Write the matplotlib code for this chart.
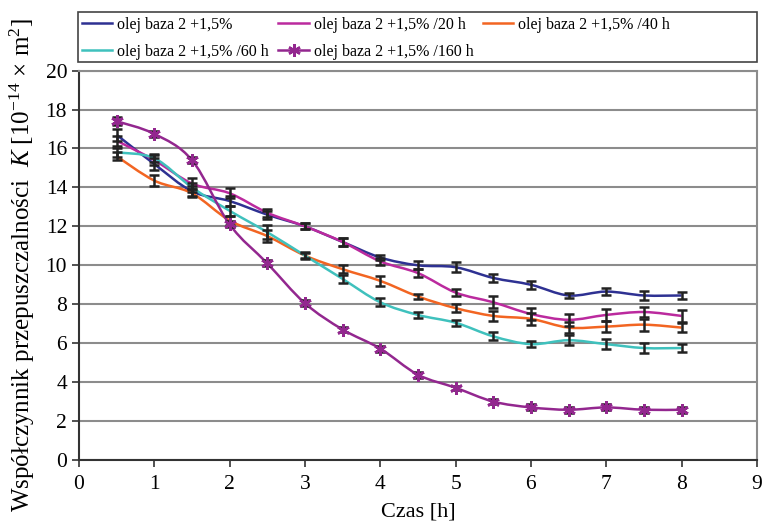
import matplotlib
matplotlib.use("Agg")
import matplotlib.pyplot as plt
from matplotlib.path import Path
from matplotlib.patches import PathPatch, Rectangle
import numpy as np

plt.rcParams['font.family'] = ['Liberation Serif', 'DejaVu Serif']
plt.rcParams['mathtext.fontset'] = 'custom'
plt.rcParams['mathtext.rm'] = 'Liberation Serif'
plt.rcParams['mathtext.it'] = 'Liberation Serif:italic'

czas = [0.5, 1.0, 1.5, 2.0, 2.5, 3.0, 3.5, 4.0, 4.5, 5.0, 5.5, 6.0, 6.5, 7.0, 7.5, 8.0]

baza = [16.7, 15.2, 13.8, 13.3, 12.6, 12.0, 11.2, 10.4, 10.0, 9.9, 9.35, 9.0, 8.45, 8.65, 8.45, 8.45]
baza_err = [0.3, 0.3, 0.25, 0.25, 0.2, 0.15, 0.2, 0.15, 0.2, 0.25, 0.2, 0.2, 0.15, 0.2, 0.25, 0.2]

h20 = [16.4, 15.4, 14.2, 13.7, 12.7, 12.0, 11.2, 10.2, 9.6, 8.6, 8.1, 7.5, 7.2, 7.45, 7.6, 7.4]
h20_err = [0.25, 0.25, 0.3, 0.25, 0.2, 0.15, 0.2, 0.2, 0.2, 0.2, 0.3, 0.3, 0.3, 0.3, 0.25, 0.3]

h40 = [15.6, 14.35, 13.7, 12.3, 11.5, 10.5, 9.8, 9.2, 8.4, 7.8, 7.4, 7.25, 6.8, 6.85, 6.95, 6.8]
h40_err = [0.2, 0.3, 0.2, 0.25, 0.3, 0.2, 0.2, 0.25, 0.15, 0.2, 0.25, 0.3, 0.3, 0.3, 0.3, 0.25]

h60 = [15.8, 15.5, 14.0, 12.8, 11.7, 10.5, 9.3, 8.1, 7.45, 7.05, 6.35, 5.95, 6.15, 5.95, 5.75, 5.75]
h60_err = [0.25, 0.2, 0.25, 0.25, 0.35, 0.15, 0.2, 0.2, 0.15, 0.15, 0.2, 0.15, 0.25, 0.25, 0.25, 0.2]

h160 = [17.4, 16.75, 15.4, 12.1, 10.1, 8.05, 6.7, 5.72, 4.38, 3.71, 3.0, 2.7, 2.58, 2.7, 2.58, 2.58]
h160_err = [0.2, 0.15, 0.15, 0.15, 0.15, 0.15, 0.15, 0.15, 0.15, 0.1, 0.15, 0.15, 0.15, 0.15, 0.15, 0.15]

etykiety = ['olej baza 2 +1,5%', 'olej baza 2 +1,5% /20 h', 'olej baza 2 +1,5% /40 h',
            'olej baza 2 +1,5% /60 h', 'olej baza 2 +1,5% /160 h']
kolory = ['#2e3192', '#bb2a9e', '#f26522', '#3fc1bd', '#93278f']


def smooth_path(x, y):
    # krzywa Beziera przez punkty (jak wygładzona linia w Excelu)
    x = np.asarray(x, float)
    y = np.asarray(y, float)
    verts = [(x[0], y[0])]
    codes = [Path.MOVETO]
    n = len(x)
    for i in range(n - 1):
        p0 = i - 1 if i > 0 else i
        p3 = i + 2 if i + 2 < n else i + 1
        c1 = (x[i] + (x[i + 1] - x[p0]) / 6, y[i] + (y[i + 1] - y[p0]) / 6)
        c2 = (x[i + 1] - (x[p3] - x[i]) / 6, y[i + 1] - (y[p3] - y[i]) / 6)
        verts += [c1, c2, (x[i + 1], y[i + 1])]
        codes += [Path.CURVE4] * 3
    return Path(verts, codes)


W, H = 763, 523
fig = plt.figure(figsize=(W / 100, H / 100), dpi=100)
ax = fig.add_axes([0.1035, 0.1205, 0.8885, 0.7445])

serie = [(baza, baza_err), (h20, h20_err), (h40, h40_err), (h60, h60_err), (h160, h160_err)]
handles = []
for (vals, errs), kol, lab in zip(serie, kolory, etykiety):
    ax.add_patch(PathPatch(smooth_path(czas, vals), facecolor='none', edgecolor=kol,
                           lw=1.8, zorder=3))
    ax.errorbar(czas, vals, yerr=errs, fmt='none', ecolor='#222222', elinewidth=1.8,
                capsize=3.7, capthick=1.8, zorder=4)
    if vals is h160:
        ax.plot(czas, vals, ls='none', marker=(6, 2, 0), ms=9, mew=1.8, color=kol, zorder=5)
        h, = ax.plot([], [], color=kol, lw=1.8, marker=(6, 2, 0), ms=9, mew=1.8)
    else:
        h, = ax.plot([], [], color=kol, lw=1.8)
    handles.append(h)

ax.set_xlim(0, 9)
ax.set_ylim(0, 20)
ax.set_xticks(range(0, 10))
ax.set_yticks(range(0, 21, 2))
ax.grid(axis='y', color='#8c8c8c', lw=1.5)
ax.set_axisbelow(True)
for s in ['top', 'right']:
    ax.spines[s].set_color('#8c8c8c')
    ax.spines[s].set_linewidth(1.5)
for s in ['left', 'bottom']:
    ax.spines[s].set_color('#333333')
    ax.spines[s].set_linewidth(1.5)
ax.tick_params(axis='both', labelsize=15.5, length=5, width=1.2, color='#333333', direction='out')
ax.tick_params(axis='x', pad=6)

ax.set_xlabel('Czas [h]', fontsize=16, labelpad=6)
ax.set_ylabel('Współczynnik przepuszczalności  $\\it{K}$ [10$^{-14}$ × m$^{2}$]',
              fontsize=18, labelpad=6)

# ramka legendy osobno, legenda wierszami jak w oryginale
fig.patches.append(Rectangle((78 / W, 1 - 62 / H), 679 / W, 50 / H, transform=fig.transFigure,
                             facecolor='white', edgecolor='#444444', lw=1.2, zorder=1))
kol_kolejnosc = [0, 3, 1, 4, 2]
leg = fig.legend([handles[i] for i in kol_kolejnosc], [etykiety[i] for i in kol_kolejnosc],
                 loc='center left', ncol=3, bbox_to_anchor=(82 / W, 1 - 38.5 / H),
                 fontsize=11.5, frameon=False, handlelength=1.9, columnspacing=0.6,
                 handletextpad=0.3, borderpad=0.0, labelspacing=0.7, borderaxespad=0)
leg.set_zorder(2)

fig.savefig('out.png', dpi=100)
